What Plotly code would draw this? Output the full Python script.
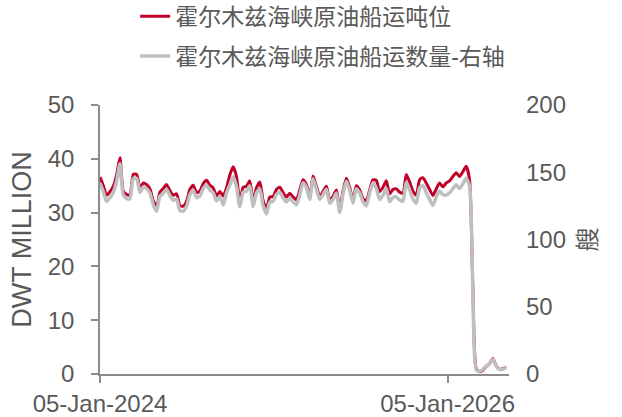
import pandas as pd
import plotly.graph_objects as go

# weekly readings starting 05-Jan-2024
START = "2024-01-05"

tonnage_mn = [
    36.6, 35.0, 33.2, 33.9, 34.9, 37.0, 40.2, 34.0, 33.4, 33.3,
    37.1, 37.1, 34.5, 35.5, 35.2, 34.4, 32.2, 31.0, 33.8, 34.5,
    35.2, 34.1, 33.2, 33.5, 31.3, 31.2, 32.1, 34.3, 35.1, 33.7,
    34.0, 35.4, 36.0, 35.1, 34.6, 33.1, 33.9, 33.1, 34.6, 37.0,
    38.5, 36.7, 32.0, 34.7, 34.9, 35.9, 32.1, 34.6, 35.7, 32.2,
    30.7, 32.9, 33.0, 34.3, 34.7, 33.7, 32.9, 33.6, 32.9, 32.4,
    34.2, 36.1, 35.2, 33.0, 36.8, 34.9, 33.0, 33.9, 34.9, 32.3,
    33.0, 34.2, 30.6, 34.0, 36.4, 34.7, 32.3, 35.0, 34.2, 32.6,
    32.2, 34.2, 36.1, 36.0, 33.9, 34.7, 35.9, 33.5, 34.3, 34.4,
    33.8, 33.6, 37.1, 35.7, 34.0, 33.2, 36.1, 36.5, 35.5, 34.3,
    33.2, 34.4, 35.5, 34.8, 35.5, 35.9, 36.7, 37.4, 36.7, 37.6,
    38.6, 36.1, 16.0, 1.0, 0.4, 0.7, 1.4, 1.9, 2.9, 1.5,
    0.9, 1.0, 1.3,
]

vessel_count = [
    141.9, 135.5, 128.3, 131.1, 135.1, 143.5, 156.3, 133.0, 130.6, 130.2,
    145.4, 145.4, 135.0, 139.0, 137.8, 134.6, 125.8, 121.0, 132.2, 134.3,
    137.1, 132.7, 129.1, 130.3, 121.5, 121.1, 124.7, 133.5, 136.7, 131.1,
    132.3, 137.9, 140.3, 136.7, 134.7, 128.7, 131.9, 125.7, 134.7, 140.6,
    146.6, 139.4, 124.3, 135.1, 135.9, 139.9, 124.7, 134.7, 137.6, 125.1,
    119.1, 127.9, 128.3, 133.5, 135.1, 131.1, 127.9, 130.7, 127.9, 125.9,
    133.1, 142.2, 138.6, 129.8, 145.0, 137.4, 129.8, 133.4, 137.4, 127.0,
    129.8, 134.6, 120.2, 133.8, 143.4, 136.6, 127.0, 137.8, 134.6, 128.2,
    125.1, 134.6, 142.2, 138.1, 129.7, 132.9, 137.7, 128.1, 131.3, 131.7,
    129.3, 128.5, 142.5, 136.9, 130.1, 126.9, 138.5, 140.1, 134.6, 129.8,
    125.4, 131.7, 136.1, 133.3, 133.1, 134.7, 137.9, 140.7, 137.9, 141.5,
    145.5, 139.9, 62.0, 3.0, 2.0, 3.5, 6.0, 7.5, 11.0, 6.0,
    3.5, 3.5, 5.0,
]

X_TICKS = ["2024-01-05", "2026-01-05"]
X_TICK_TEXT = ["05-Jan-2024", "05-Jan-2026"]

RED = "#C00028"
GREY = "#BFBFBF"
TEXT = "#595959"
AXIS = "#8C8C8C"
FONT = "Arial, 'Liberation Sans', 'Noto Sans CJK SC', sans-serif"

dates = pd.date_range(START, periods=len(tonnage_mn), freq="7D")

fig = go.Figure()
fig.add_trace(
    go.Scatter(
        x=dates,
        y=tonnage_mn,
        name="霍尔木兹海峡原油船运吨位",
        mode="lines",
        line=dict(color=RED, width=3, shape="spline", smoothing=0.6),
        legendgroup="a",
    )
)
fig.add_trace(
    go.Scatter(
        x=dates,
        y=vessel_count,
        name="霍尔木兹海峡原油船运数量-右轴",
        mode="lines",
        line=dict(color=GREY, width=3.5, shape="spline", smoothing=0.6),
        yaxis="y2",
        legendgroup="b",
    )
)

fig.update_layout(
    width=622,
    height=417,
    margin=dict(l=100, r=113, t=105, b=43, autoexpand=False),
    paper_bgcolor="white",
    plot_bgcolor="white",
    font=dict(family=FONT, size=24, color=TEXT),
    showlegend=True,
    legend=dict(
        x=0.086, y=1.41, xanchor="left", yanchor="top",
        font=dict(size=23, color=TEXT),
        tracegroupgap=7,
        bgcolor="rgba(0,0,0,0)",
    ),
    xaxis=dict(
        type="date",
        range=["2024-01-05", "2026-05-14"],
        tickvals=X_TICKS,
        ticktext=X_TICK_TEXT,
        ticks="outside", ticklen=7, tickcolor=AXIS, tickwidth=1.5,
        showline=True, linecolor=AXIS, linewidth=1.5,
        showgrid=False, zeroline=False, automargin=False,
        tickfont=dict(size=24, color=TEXT),
    ),
    yaxis=dict(
        range=[0, 50], dtick=10,
        ticks="outside", ticklen=7, tickcolor=AXIS, tickwidth=1.5,
        showline=True, linecolor=AXIS, linewidth=1.5,
        showgrid=False, zeroline=False, automargin=False,
        ticklabelstandoff=12,
        tickfont=dict(size=24, color=TEXT),
        title=dict(text="DWT MILLION", font=dict(size=27, color=TEXT), standoff=8),
    ),
    yaxis2=dict(
        range=[0, 200], dtick=50,
        overlaying="y", side="right",
        ticks="", showline=False,
        showgrid=False, zeroline=False, automargin=False,
        ticklabelstandoff=16,
        tickfont=dict(size=24, color=TEXT),
        title=dict(text="艘", font=dict(size=24, color=TEXT), standoff=14),
    ),
)

# the page's default body margin would shift the chart by 8px
fig.write_html(
    "out.html",
    config={"displayModeBar": False},
    post_script="document.body.style.margin = '0';",
)
